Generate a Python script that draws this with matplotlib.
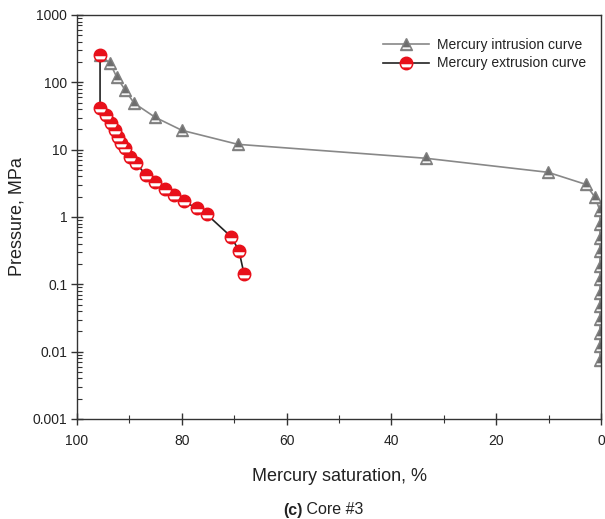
import matplotlib
matplotlib.use("Agg")
import matplotlib.pyplot as plt
from matplotlib.path import Path
from matplotlib.lines import Line2D
from matplotlib.ticker import LogLocator, FixedLocator, NullFormatter
import numpy as np

plt.rcParams['font.family'] = ['Liberation Sans', 'DejaVu Sans']

intr_sat = [95.6, 93.7, 92.4, 90.8, 89.1, 85.1, 80.0, 69.3, 33.4, 10.1, 2.9, 1.15,
            0.2, 0.2, 0.2, 0.2, 0.2, 0.2, 0.2, 0.2, 0.2, 0.2, 0.2, 0.2]
intr_p = [254, 193, 119, 76.6, 49, 30.3, 19.4, 12.0, 7.45, 4.61, 3.05, 1.96,
          1.25, 0.80, 0.48, 0.308, 0.19, 0.122, 0.0755, 0.0484, 0.031, 0.0192, 0.0123, 0.0076]

extr_sat = [95.6, 95.6, 94.5, 93.5, 92.7, 92.2, 91.6, 90.8, 89.9, 88.7, 86.8, 85.1,
            83.2, 81.5, 79.6, 77.1, 75.2, 70.6, 69.1, 68.1]
extr_p = [254, 41.3, 32.5, 24.7, 19.4, 15.3, 12.5, 10.5, 7.7, 6.28, 4.16, 3.27,
          2.58, 2.1, 1.71, 1.34, 1.09, 0.51, 0.318, 0.14]

x_ticks = [100, 80, 60, 40, 20, 0]
y_ticks = [0.001, 0.01, 0.1, 1, 10, 100, 1000]
y_labels = ['0.001', '0.01', '0.1', '1', '10', '100', '1000']


def circle_band(y0, y1, n=20):
    r = 0.86
    a0, a1 = np.arcsin(y0 / r), np.arcsin(y1 / r)
    ang_r = np.linspace(a0, a1, n)
    right = np.c_[r * np.cos(ang_r), r * np.sin(ang_r)]
    left = np.c_[-r * np.cos(ang_r[::-1]), r * np.sin(ang_r[::-1])]
    v = np.vstack([right, left, right[:1]])
    return Path(v, closed=True), np.max(np.abs(v))


def tri_band(y0, y1):
    s = 0.78
    hw = lambda y: s * (1 - y) / 2
    v = np.array([[-hw(y0), y0], [hw(y0), y0], [hw(y1), y1], [-hw(y1), y1], [-hw(y0), y0]])
    return Path(v, closed=True), np.max(np.abs(v))


fig = plt.figure(figsize=(6.05, 5.19), dpi=100)
ax = fig.add_axes([77/605, 1-419/519, 524/605, 404/519])

txt = '#222222'
ms_c = 9.0
ms_t = 9.0
ax.plot(intr_sat, intr_p, color='#888888', lw=1.2, marker='^', ms=ms_t,
        markerfacecolor='#6e6e6e', markeredgecolor='#808080', markeredgewidth=1.0,
        zorder=2)
tpath, tmax = tri_band(-0.75, -0.45)
ax.plot(intr_sat, intr_p, ls='none', marker=tpath, ms=ms_t * tmax,
        markerfacecolor='#f2f2f2', markeredgewidth=0, zorder=2.1)

ax.plot(extr_sat, extr_p, color='#222222', lw=1.2, marker='o', ms=ms_c,
        markerfacecolor='#e8101a', markeredgecolor='#e8101a', markeredgewidth=1.0,
        zorder=3)
cpath, cmax = circle_band(-0.62, -0.12)
ax.plot(extr_sat, extr_p, ls='none', marker=cpath, ms=ms_c * cmax,
        markerfacecolor='white', markeredgewidth=0, zorder=3.1)

h1 = (Line2D([], [], color='#888888', lw=1.2, marker='^', ms=ms_t, markerfacecolor='#6e6e6e',
             markeredgecolor='#808080'),
      Line2D([], [], ls='none', marker=tpath, ms=ms_t * tmax, markerfacecolor='#f2f2f2',
             markeredgewidth=0))
h2 = (Line2D([], [], color='#222222', lw=1.2, marker='o', ms=ms_c, markerfacecolor='#e8101a',
             markeredgecolor='#e8101a'),
      Line2D([], [], ls='none', marker=cpath, ms=ms_c * cmax, markerfacecolor='white',
             markeredgewidth=0))

ax.set_yscale('log')
ax.set_ylim(0.001, 1000)
ax.set_xlim(100, 0)
ax.set_yticks(y_ticks)
ax.set_yticklabels(y_labels)
ax.yaxis.set_minor_locator(LogLocator(base=10, subs=range(2, 10), numticks=20))
ax.yaxis.set_minor_formatter(NullFormatter())
ax.set_xticks(x_ticks)
ax.set_xticklabels([str(v) for v in x_ticks])
ax.xaxis.set_minor_locator(FixedLocator([90, 70, 50, 30, 10]))

ax.tick_params(axis='y', which='major', direction='inout', length=8, width=1, colors='#333333',
               labelsize=10, labelcolor=txt, right=False, pad=3)
ax.tick_params(axis='x', which='major', direction='inout', length=8, width=1, colors='#333333',
               labelsize=10, labelcolor=txt, top=False, pad=7)
ax.tick_params(axis='y', which='minor', direction='in', length=3.5, width=0.8, colors='#333333',
               right=False)
ax.tick_params(axis='x', which='minor', direction='inout', length=6, width=0.8, colors='#333333',
               top=False)
for s in ax.spines.values():
    s.set_color('#333333')
    s.set_linewidth(1.0)

ax.set_xlabel('Mercury saturation, %', fontsize=13, color=txt, labelpad=14)
ax.set_ylabel('Pressure, MPa', fontsize=13, color=txt, labelpad=5)

leg = ax.legend([h1, h2], ['Mercury intrusion curve', 'Mercury extrusion curve'],
                loc='upper left', bbox_to_anchor=(0.56, 0.975), frameon=False,
                fontsize=10, handlelength=3.3, labelspacing=0.35, handletextpad=0.6)
for t in leg.get_texts():
    t.set_color(txt)

y_t = 1 - 510/519
fig.text(0.5, y_t, '(c)', fontsize=11.5, fontweight='bold', ha='right', va='center', color=txt)
fig.text(0.5, y_t, ' Core #3', fontsize=11.5, ha='left', va='center', color=txt)

fig.savefig('out.png', dpi=100)
